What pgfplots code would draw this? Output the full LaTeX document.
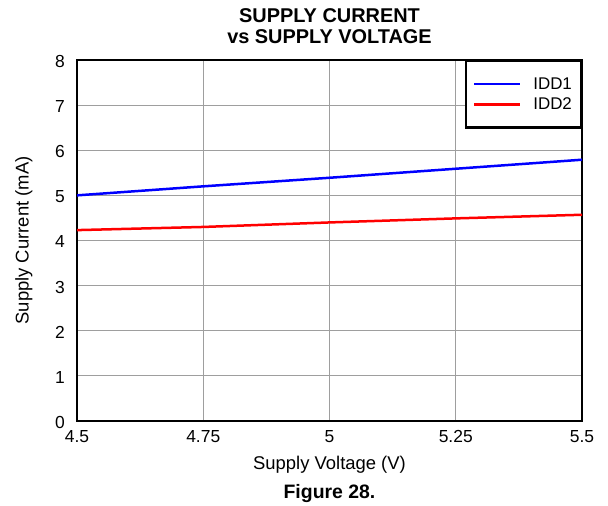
\documentclass[border=0pt]{standalone}
\usepackage{pgfplots}
\pgfplotsset{compat=1.18}
\usepackage{fontspec}
\setmainfont{Liberation Sans}
\begin{document}
\begin{tikzpicture}[x=1bp,y=1bp]
\useasboundingbox (0,0) rectangle (608,506);
\begin{axis}[
  at={(77bp,85bp)}, anchor=south west,
  scale only axis,
  width=505bp, height=361bp,
  xmin=4.5, xmax=5.5, ymin=0, ymax=8,
  xtick={4.5,4.75,5,5.25,5.5},
  ytick={0,1,2,3,4,5,6,7,8},
  major tick length=0pt,
  grid=major,
  grid style={black!38, line width=1bp},
  axis line style={black, line width=2.6bp},
  /pgf/number format/assume math mode=true,
  ticklabel style={font=\fontsize{17.5}{19}\selectfont, inner sep=0pt},
  xticklabel style={anchor=north, yshift=-9.5bp},
  yticklabel style={anchor=east, xshift=-12bp, yshift=-1.5bp},
  xlabel={Supply Voltage (V)},
  ylabel={Supply Current (mA)},
  xlabel style={font=\fontsize{18.5}{20}\selectfont, inner sep=0pt,
    at={(axis description cs:0.5,0)}, anchor=north, yshift=-35bp},
  ylabel style={font=\fontsize{18.5}{20}\selectfont, inner sep=0pt,
    at={(axis description cs:-0.105,0.5)}, anchor=center, rotate=0},
  title={SUPPLY CURRENT\\vs SUPPLY VOLTAGE},
  title style={font=\bfseries\fontsize{20}{21}\selectfont, align=center, inner sep=0pt,
    at={(axis description cs:0.5,1)}, anchor=south, yshift=10bp},
  legend style={at={(1,1)}, anchor=north east, draw=black, line width=2.2bp,
    font=\fontsize{17}{18}\selectfont, inner xsep=7bp, inner ysep=14.5bp,
    row sep=3bp, column sep=10bp, cells={anchor=west}},
  legend image code/.code={\path (0bp,0bp) -- (46bp,0bp); \draw[#1, line width=2.5bp] (9bp,0bp) -- (46bp,0bp);},
]
\addplot[blue, line width=2.5bp] coordinates {(4.5,5.0) (4.75,5.2) (5.0,5.39) (5.25,5.59) (5.5,5.79)};
\addlegendentry{IDD1}
\addplot[red, line width=2.5bp] coordinates {(4.5,4.23) (4.75,4.30) (5.0,4.40) (5.25,4.49) (5.5,4.57)};
\addlegendentry{IDD2}
\end{axis}
\node[font=\bfseries\fontsize{19.5}{21}\selectfont, anchor=base, inner sep=0pt] at (329.5,7) {Figure 28.};
\end{tikzpicture}
\end{document}
